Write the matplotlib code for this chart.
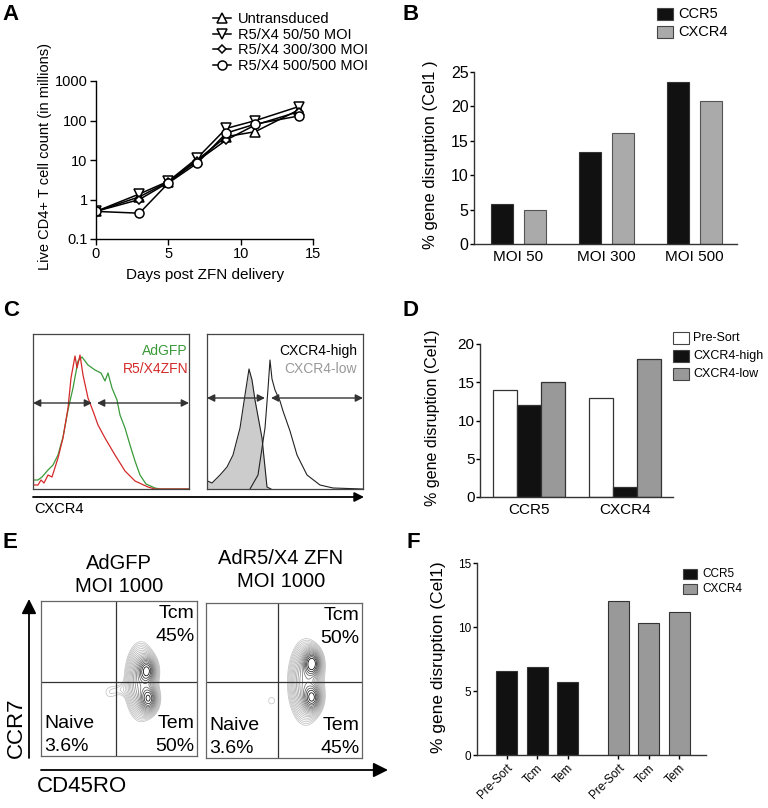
import numpy as np
import matplotlib
matplotlib.use("Agg")
import matplotlib.pyplot as plt
from matplotlib.patches import FancyArrowPatch, Rectangle
from matplotlib.ticker import FixedLocator, FixedFormatter, NullLocator

plt.rcParams["font.family"] = ["Liberation Sans", "DejaVu Sans"]

W, H = 768, 808

# ---- panel A: growth curves ----
days = [0, 3, 5, 7, 9, 11, 14]
untransduced = [0.5, 1.17, 2.8, 10, 39, 52, 185]
moi_50 = [0.5, 1.38, 2.9, 11.2, 63, 99, 224]
moi_300 = [0.5, 1.0, 2.7, 9.5, 32, 77, 167]
moi_500 = [0.5, 0.45, 2.6, 8.3, 48, 81, 130]
growth_labels = ["Untransduced", "R5/X4 50/50 MOI", "R5/X4 300/300 MOI", "R5/X4 500/500 MOI"]

# ---- panel B: disruption by MOI ----
moi_groups = ["MOI 50", "MOI 300", "MOI 500"]
b_ccr5 = [5.8, 13.3, 23.6]
b_cxcr4 = [5.0, 16.2, 20.8]

# ---- panel C: histograms (channel, counts) ----
red_x = [0, 0.5, 5, 8, 11, 15, 19, 25, 30, 35, 38, 42, 44, 47, 50, 55, 60, 65, 72, 82, 92, 102, 115, 122, 156]
red_y = [151, 4, 4, 9, 6, 14, 12, 31, 51, 81, 111, 133, 121, 134, 114, 91, 78, 64, 51, 34, 18, 8, 2, 0, 0]
green_x = [1, 5, 9, 15, 20, 25, 30, 35, 40, 45, 49, 55, 62, 68, 72, 75, 79, 84, 87, 92, 97, 102, 107, 113, 122, 127, 156]
green_y = [9, 9, 12, 19, 24, 34, 52, 79, 101, 128, 132, 124, 119, 116, 108, 116, 101, 89, 74, 61, 44, 28, 14, 5, 1, 0, 0]
low_x = [0, 0.5, 5, 13, 20, 26, 33, 38, 42, 45, 48, 55, 60, 64]
low_y = [150, 8, 6, 14, 22, 34, 61, 94, 120, 109, 89, 51, 2, 0]
high_x = [43, 51, 58, 61, 63, 65, 68, 73, 76, 83, 90, 100, 113, 126, 156]
high_y = [0, 14, 61, 100, 129, 110, 99, 88, 78, 58, 34, 14, 4, 1, 0]

# ---- panel D: sorted populations ----
d_genes = ["CCR5", "CXCR4"]
d_labels = ["Pre-Sort", "CXCR4-high", "CXCR4-low"]
d_presort = [14, 13]
d_high = [12, 1.3]
d_low = [15, 18]

# ---- panel E: contour blobs (x, y, sx, sy, weight) ----
e_titles = ["AdGFP\nMOI 1000", "AdR5/X4 ZFN\nMOI 1000"]
e_tcm = ["45%", "50%"]
e_tem = ["50%", "45%"]
e_naive = ["3.6%", "3.6%"]
e_blobs = [
    [(0.68, 0.55, 0.03, 0.045, 1.0), (0.69, 0.37, 0.03, 0.045, 1.0),
     (0.64, 0.48, 0.05, 0.12, 0.45), (0.44, 0.41, 0.045, 0.05, 0.05),
     (0.52, 0.43, 0.04, 0.03, 0.04)],
    [(0.68, 0.61, 0.03, 0.045, 1.2), (0.68, 0.39, 0.03, 0.045, 1.0),
     (0.64, 0.49, 0.055, 0.13, 0.45), (0.42, 0.37, 0.04, 0.045, 0.05)],
]

# ---- panel F: memory subsets ----
f_ticklabels = ["Pre-Sort", "Tcm", "Tem", "Pre-Sort", "Tcm", "Tem"]
f_ccr5 = [6.6, 6.9, 5.7]
f_cxcr4 = [12.0, 10.3, 11.2]


fig = plt.figure(figsize=(W / 100, H / 100), dpi=100)


def px_axes(left, top, right, bottom):
    return fig.add_axes([left / W, 1 - bottom / H, (right - left) / W, (bottom - top) / H])


def ftext(x, y, s, **kw):
    return fig.text(x / W, 1 - y / H, s, **kw)


def fig_arrow(x0, y0, x1, y1, scale):
    arr = FancyArrowPatch((x0 / W, 1 - y0 / H), (x1 / W, 1 - y1 / H),
                          transform=fig.transFigure, arrowstyle="-|>",
                          mutation_scale=scale, color="black", lw=1.3,
                          shrinkA=0, shrinkB=0)
    fig.add_artist(arr)


def bar_style(ax, ylim, yticks, labelsize):
    ax.set_ylim(*ylim)
    ax.set_yticks(yticks)
    ax.spines[["top", "right"]].set_visible(False)
    for s in ["left", "bottom"]:
        ax.spines[s].set_linewidth(1)
        ax.spines[s].set_color("#333333")
    ax.tick_params(axis="y", length=3, width=1, labelsize=labelsize, pad=1)


def legend_box(x, y, color, label, size, w=16, h=11, gap=5):
    fig.add_artist(Rectangle((x / W, 1 - (y + h / 2) / H), w / W, h / H,
                             transform=fig.transFigure, facecolor=color,
                             edgecolor="#444444", lw=0.8))
    ftext(x + w + gap, y, label, fontsize=size, va="center", ha="left")


# panel letters
for letter, x, y in [("A", 2, 14), ("B", 403, 14), ("C", 3, 311), ("D", 403, 311),
                     ("E", 3, 543), ("F", 406, 543)]:
    ftext(x, y, letter, fontsize=16, fontweight="bold", va="center", ha="left")

# ---------------- A ----------------
axA = px_axes(96, 81, 313, 239)
series = [untransduced, moi_50, moi_300, moi_500]
markers = ["^", "v", "D", "o"]
msizes = [6.5, 6.5, 4.5, 6.5]
for vals, mk, ms, lab in zip(series, markers, msizes, growth_labels):
    axA.plot(days, vals, color="black", lw=1.1, marker=mk, ms=ms,
             mfc="white", mec="black", mew=1.1, label=lab)
axA.set_yscale("log")
axA.set_xlim(0, 15)
axA.set_ylim(0.1, 1000)
axA.set_xticks([0, 5, 10, 15])
axA.yaxis.set_major_locator(FixedLocator([0.1, 1, 10, 100, 1000]))
axA.yaxis.set_major_formatter(FixedFormatter(["0.1", "1", "10", "100", "1000"]))
axA.yaxis.set_minor_locator(NullLocator())
axA.spines[["top", "right"]].set_visible(False)
axA.tick_params(length=4, width=1, labelsize=10.5, pad=2)
axA.spines[["left", "bottom"]].set_linewidth(1)
ftext(205, 275, "Days post ZFN delivery", fontsize=11, ha="center", va="center")
ftext(45, 156, "Live CD4+ T cell count (in millions)", fontsize=10.5, rotation=90,
      ha="center", va="center")
axA.legend(loc="upper left", bbox_to_anchor=(213 / W, 1 - 12 / H),
           bbox_transform=fig.transFigure, frameon=False, fontsize=10.5,
           handlelength=1.2, handletextpad=0.5, labelspacing=0.12, borderpad=0,
           borderaxespad=0)

# ---------------- B ----------------
axB = px_axes(474, 72, 737, 244)
xb = np.arange(len(moi_groups))
axB.bar(xb - 0.1875, b_ccr5, 0.25, color="#111111", edgecolor="#333333", lw=0.8)
axB.bar(xb + 0.1875, b_cxcr4, 0.25, color="#aaaaaa", edgecolor="#555555", lw=0.8)
axB.set_xlim(-0.506, 2.483)
bar_style(axB, (0, 25), [0, 5, 10, 15, 20, 25], 11.5)
axB.set_xticks(xb)
axB.set_xticklabels(moi_groups, fontsize=11)
axB.tick_params(axis="x", length=0, pad=4)
ftext(431, 155, "% gene disruption (Cel1 )", fontsize=12, rotation=90, ha="center", va="center")
legend_box(657, 14, "#111111", "CCR5", 10.5)
legend_box(657, 32, "#aaaaaa", "CXCR4", 10.5)

# ---------------- C ----------------
axC1 = px_axes(33, 334, 189, 489)
axC2 = px_axes(207, 334, 363, 489)
axC1.plot(green_x, green_y, color="#3a9a3a", lw=0.9)
axC1.plot(red_x, red_y, color="#d42a2a", lw=0.9)
axC2.fill_between(low_x, low_y, color="#cccccc", lw=0)
axC2.plot(low_x, low_y, color="#222222", lw=0.8)
axC2.plot(high_x, high_y, color="#222222", lw=0.8)
for ax, gy, gates in [(axC1, 86, [(0, 59), (64, 156)]), (axC2, 91, [(0, 58), (64, 156)])]:
    ax.set_xlim(0, 156)
    ax.set_ylim(0, 155)
    ax.set_xticks([])
    ax.set_yticks([])
    for s in ax.spines.values():
        s.set_color("#444444")
        s.set_linewidth(0.9)
    for a, b in gates:
        ax.annotate("", xy=(b, gy), xytext=(a, gy),
                    arrowprops=dict(arrowstyle="<|-|>", color="#333333", lw=1,
                                    mutation_scale=11, shrinkA=0, shrinkB=0))
ftext(188, 351, "AdGFP", color="#3a9a3a", fontsize=10, ha="right", va="center")
ftext(188, 369, "R5/X4ZFN", color="#d42a2a", fontsize=10, ha="right", va="center")
ftext(357, 351, "CXCR4-high", color="black", fontsize=10, ha="right", va="center")
ftext(357, 369, "CXCR4-low", color="#999999", fontsize=10, ha="right", va="center")
fig_arrow(33, 497, 364, 497, 14)
ftext(34, 509, "CXCR4", fontsize=10.5, ha="left", va="center")

# ---------------- D ----------------
axD = px_axes(480, 344, 673, 497)
xd = np.arange(len(d_genes))
wd = 0.253
axD.bar(xd - wd, d_presort, wd, color="white", edgecolor="#333333", lw=0.9)
axD.bar(xd, d_high, wd, color="#111111", edgecolor="#333333", lw=0.9)
axD.bar(xd + wd, d_low, wd, color="#999999", edgecolor="#333333", lw=0.9)
axD.set_xlim(-0.51, 1.5)
bar_style(axD, (0, 20), [0, 5, 10, 15, 20], 11)
axD.set_xticks(xd)
axD.set_xticklabels(d_genes, fontsize=11)
axD.tick_params(axis="x", length=0, pad=4)
ftext(432, 418, "% gene disruption (Cel1)", fontsize=11.5, rotation=90, ha="center", va="center")
for lab, col, yy in zip(d_labels, ["white", "#111111", "#999999"], [338, 356, 374]):
    legend_box(673, yy, col, lab, 9, w=16, h=12, gap=4)

# ---------------- E ----------------
gx, gy = np.meshgrid(np.linspace(0, 1, 400), np.linspace(0, 1, 400))
for i, (l, t, r, b, cx) in enumerate([(41, 601, 197, 756, 119), (206, 603, 362, 758, 281)]):
    ax = px_axes(l, t, r, b)
    dens = np.zeros_like(gx)
    for (mx, my, sx, sy, wgt) in e_blobs[i]:
        dens += wgt * np.exp(-((gx - mx) ** 2 / (2 * sx ** 2) + (gy - my) ** 2 / (2 * sy ** 2)))
    levels = np.geomspace(0.045, 1.1, 18)
    ax.contour(gx, gy, dens, levels=levels, cmap="Greys", vmin=-0.5, vmax=1.1,
               linewidths=0.55)
    ax.axvline(0.48 if i == 0 else 0.46, color="#333333", lw=0.9)
    ax.axhline(0.48 if i == 0 else 0.49, color="#333333", lw=0.9)
    ax.set_xlim(0, 1)
    ax.set_ylim(0, 1)
    ax.set_xticks([])
    ax.set_yticks([])
    for s in ax.spines.values():
        s.set_color("#666666")
        s.set_linewidth(0.9)
    ax.text(0.985, 0.92, "Tcm", transform=ax.transAxes, ha="right", va="center", fontsize=14)
    ax.text(0.985, 0.77, e_tcm[i], transform=ax.transAxes, ha="right", va="center", fontsize=14)
    ax.text(0.985, 0.21, "Tem", transform=ax.transAxes, ha="right", va="center", fontsize=14)
    ax.text(0.985, 0.06, e_tem[i], transform=ax.transAxes, ha="right", va="center", fontsize=14)
    ax.text(0.02, 0.21, "Naive", transform=ax.transAxes, ha="left", va="center", fontsize=14)
    ax.text(0.02, 0.06, e_naive[i], transform=ax.transAxes, ha="left", va="center", fontsize=14)
    ftext(cx, (575 if i == 0 else 570), e_titles[i], fontsize=14.5, ha="center", va="center",
          linespacing=1.25)
fig_arrow(29, 758, 29, 599, 22)
fig_arrow(41, 770, 388, 770, 22)
ftext(16, 728, "CCR7", fontsize=16, rotation=90, ha="center", va="center")
ftext(37, 786, "CD45RO", fontsize=16, ha="left", va="center")

# ---------------- F ----------------
axF = px_axes(477, 563, 706, 755)
f_pos = [0, 1, 2, 3.67, 4.67, 5.67]
axF.bar(f_pos[:3], f_ccr5, 0.69, color="#111111", edgecolor="#333333", lw=0.8)
axF.bar(f_pos[3:], f_cxcr4, 0.69, color="#999999", edgecolor="#333333", lw=0.8)
axF.set_xlim(-0.97, 6.54)
bar_style(axF, (0, 15), [0, 5, 10, 15], 8.5)
axF.set_xticks(f_pos)
axF.set_xticklabels(f_ticklabels, rotation=45, ha="right", rotation_mode="anchor", fontsize=8.5)
axF.tick_params(axis="x", length=3, width=1, pad=2)
ftext(439, 657, "% gene disruption (Cel1)", fontsize=12.5, rotation=90, ha="center", va="center")
legend_box(683, 574, "#111111", "CCR5", 8.5, w=14, h=10)
legend_box(683, 589, "#999999", "CXCR4", 8.5, w=14, h=10)

fig.savefig("out.png", dpi=100)
